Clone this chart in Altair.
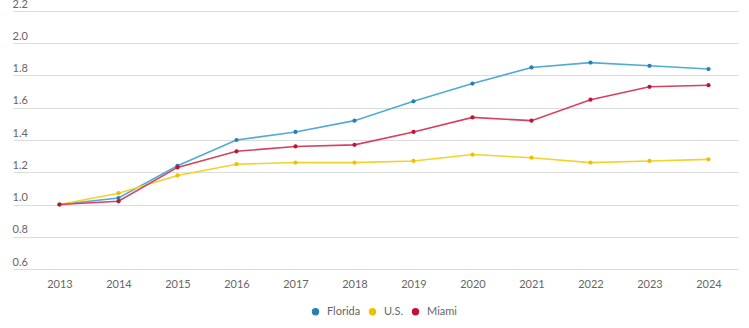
import altair as alt
import pandas as pd

years = ["2013", "2014", "2015", "2016", "2017", "2018",
         "2019", "2020", "2021", "2022", "2023", "2024"]
series = ["Florida", "U.S.", "Miami"]
florida = [1.00, 1.04, 1.24, 1.40, 1.45, 1.52, 1.64, 1.75, 1.85, 1.88, 1.86, 1.84]
us = [1.00, 1.07, 1.18, 1.25, 1.26, 1.26, 1.27, 1.31, 1.29, 1.26, 1.27, 1.28]
miami = [1.00, 1.02, 1.23, 1.33, 1.36, 1.37, 1.45, 1.54, 1.52, 1.65, 1.73, 1.74]

line_colors = ["#52aad6", "#f2d32a", "#d8405f"]
dot_colors = ["#2c7eae", "#ecc200", "#c2123a"]

rows = []
for name, vals in zip(series, [florida, us, miami]):
    for y, v in zip(years, vals):
        rows.append({"year": y, "series": name, "value": v})
df = pd.DataFrame(rows)

FONT = "Lato"
TEXT = "#666666"
GRID = "#dcdcdc"

x = alt.X("year:O", sort=years,
          scale=alt.Scale(type="point", padding=0.5),
          axis=alt.Axis(title=None, labelAngle=0, domain=False, ticks=False,
                        grid=False, labelPadding=9, labelFont=FONT,
                        labelFontSize=11, labelColor=TEXT))
y = alt.Y("value:Q",
          scale=alt.Scale(domain=[0.6, 2.2], nice=False, zero=False),
          axis=alt.Axis(title=None, values=[0.6, 0.8, 1.0, 1.2, 1.4, 1.6, 1.8, 2.0, 2.2],
                        format=".1f", domain=False, grid=True, gridColor=GRID,
                        gridWidth=1, ticks=True, tickSize=17, tickColor=GRID,
                        labelAlign="left", labelBaseline="bottom", labelPadding=1,
                        labelOffset=-2, labelFont=FONT, labelFontSize=11,
                        labelColor=TEXT))

lines = alt.Chart(df).mark_line(strokeWidth=1.6).encode(
    x=x, y=y,
    color=alt.Color("series:N", sort=series,
                    scale=alt.Scale(domain=series, range=line_colors),
                    legend=None),
)

dots = alt.Chart(df).mark_circle(size=18, opacity=1).encode(
    x=x, y=y,
    color=alt.Color("series:N", sort=series,
                    scale=alt.Scale(domain=series, range=dot_colors),
                    legend=alt.Legend(title=None, orient="none", direction="horizontal",
                                      legendX=280, legendY=295, symbolType="circle",
                                      symbolSize=55, symbolOpacity=1,
                                      labelFont=FONT, labelFontSize=11,
                                      labelColor=TEXT, labelOffset=6,
                                      columnPadding=6)),
)

chart = (
    alt.layer(lines, dots)
    .resolve_scale(color="independent")
    .properties(
        width=708, height=258,
        autosize=alt.AutoSizeParams(type="none"),
        padding={"left": 30, "top": 11, "right": 11, "bottom": 59},
        background="white",
    )
    .configure_view(stroke=None)
)

chart.save("out.html", embed_options={"renderer": "svg", "actions": False})
